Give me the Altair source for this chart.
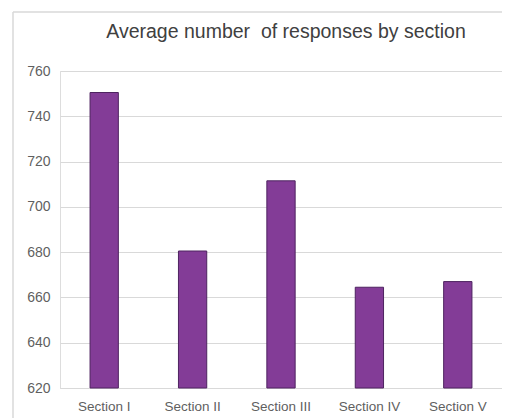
import altair as alt
import pandas as pd

sections = ["Section I", "Section II", "Section III", "Section IV", "Section V"]
responses = [750.5, 680.5, 711.5, 664.5, 667.0]
y_ticks = [620, 640, 660, 680, 700, 720, 740, 760]
title_text = "Average number\u00a0 of responses by section"

df = pd.DataFrame({"section": sections, "responses": responses})
frame_df = pd.DataFrame({"k": [0]})

bars = alt.Chart(df).mark_bar(
    color="#833C97", stroke="#4E2360", strokeWidth=1
).encode(
    x=alt.X("section:N", sort=sections, title=None,
            scale=alt.Scale(paddingInner=0.68, paddingOuter=0.34),
            axis=alt.Axis(labelAngle=0, labelFontSize=13.5, labelColor="#5F5F5F",
                          labelFont="Liberation Sans", labelPadding=11, ticks=False,
                          domainColor="#D9D9D9", domainWidth=1, grid=False)),
    y=alt.Y("responses:Q", title=None,
            scale=alt.Scale(domain=[620, 760], nice=False, zero=False),
            axis=alt.Axis(values=y_ticks, labelFontSize=14, labelColor="#5F5F5F",
                          labelFont="Liberation Sans", labelPadding=10, ticks=False,
                          domain=False, gridColor="#D9D9D9", gridWidth=1)),
    y2=alt.datum(620),
)

left_edge = alt.Chart(frame_df).mark_rule(color="#D9D9D9", strokeWidth=1.5).encode(
    x=alt.value(-47), y=alt.value(-59), y2=alt.value(360)
)
top_edge = alt.Chart(frame_df).mark_rule(color="#D9D9D9", strokeWidth=1.5).encode(
    x=alt.value(-47), x2=alt.value(442), y=alt.value(-59)
)
title = alt.Chart(frame_df).mark_text(
    fontSize=19.5, font="Liberation Sans", color="#404040",
    align="center", baseline="alphabetic"
).encode(
    x=alt.value(226), y=alt.value(-33), text=alt.value(title_text)
)

chart = alt.layer(left_edge, top_edge, bars, title).properties(
    width=442, height=317,
    autosize=alt.AutoSizeParams(type="none"),
    padding={"left": 52, "top": 63, "right": 0, "bottom": 30},
).configure_view(stroke=None).configure(background="white")

chart.save("out.html", embed_options={"renderer": "svg", "actions": False})
